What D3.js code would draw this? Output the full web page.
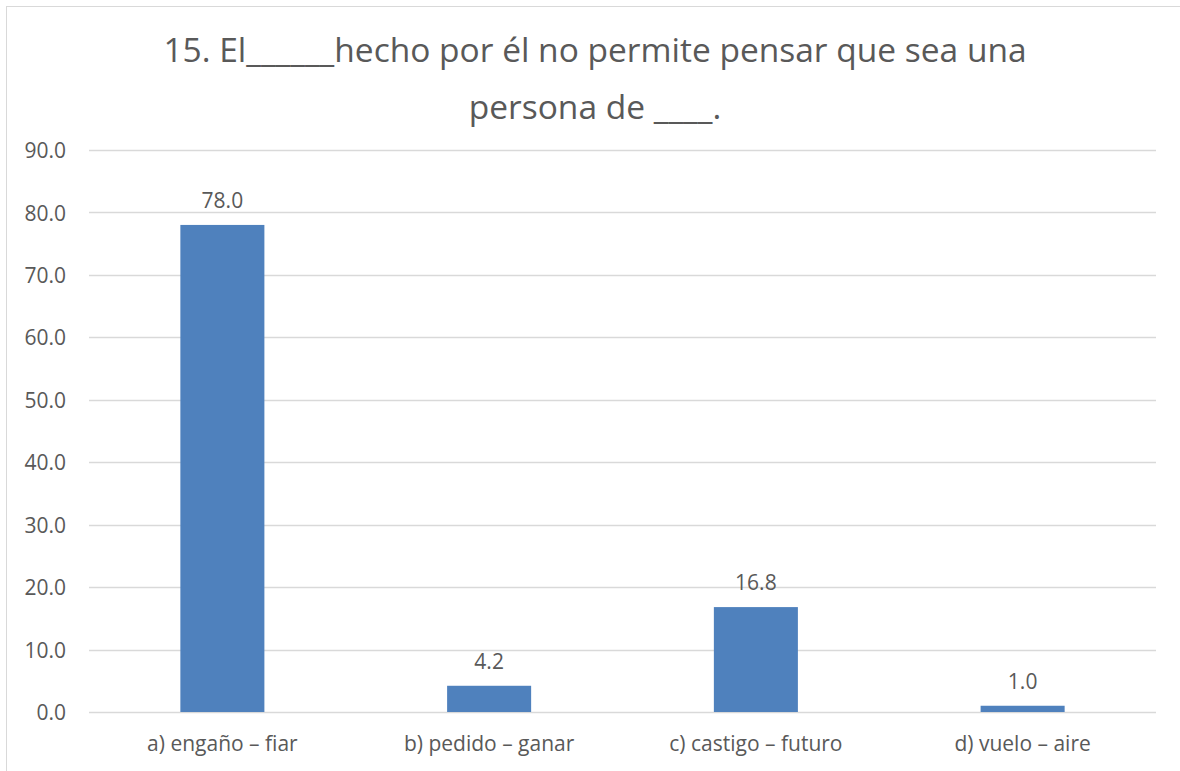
<!DOCTYPE html>
<html>
<head>
<meta charset="utf-8">
<script src="https://cdn.jsdelivr.net/npm/d3@7"></script>
<style>
  html, body { margin: 0; padding: 0; background: #fff; }
  svg { display: block; }
  text { font-family: "Open Sans", "Noto Sans", sans-serif; fill: #595959; }
</style>
</head>
<body>
<svg id="chart" width="1180" height="771"></svg>
<script>
const titleLines = ["15. El______hecho por él no permite pensar que sea una", "persona de ____."];
const categories = ["a) engaño – fiar", "b) pedido – ganar", "c) castigo – futuro", "d) vuelo – aire"];
const values = [78.0, 4.2, 16.8, 1.0];
const yTicks = [0, 10, 20, 30, 40, 50, 60, 70, 80, 90];

const svg = d3.select("#chart");
const W = 1180, H = 771;
const m = { left: 89, right: 1156, top: 150, bottom: 712 };

// chart border (extends past right/bottom of view)
svg.append("rect")
  .attr("x", 6.5).attr("y", 6.5)
  .attr("width", W + 20).attr("height", H + 20)
  .attr("fill", "#fff").attr("stroke", "#D9D9D9").attr("stroke-width", 1);

const x = d3.scaleBand().domain(categories).range([m.left, m.right]).padding(0);
const y = d3.scaleLinear().domain([0, 90]).range([m.bottom, m.top]);
const barW = x.bandwidth() * 0.315;

// gridlines
svg.append("g").selectAll("line").data(yTicks).join("line")
  .attr("x1", m.left).attr("x2", m.right)
  .attr("y1", d => Math.round(y(d)) + 0.5).attr("y2", d => Math.round(y(d)) + 0.5)
  .attr("stroke", "#D9D9D9").attr("stroke-width", 1.5);

// y axis labels
const yAxis = d3.axisLeft(y).tickValues(yTicks).tickFormat(d3.format(".1f")).tickSize(0).tickPadding(0);
const gy = svg.append("g").attr("transform", `translate(${m.left - 23},0)`).call(yAxis);
gy.select(".domain").remove();
gy.selectAll("text").attr("font-size", 21).attr("fill", "#595959")
  .attr("font-family", '"Open Sans", "Noto Sans", sans-serif').attr("dy", "0.36em");

// bars
svg.append("g").selectAll("rect").data(values).join("rect")
  .attr("x", (d, i) => x(categories[i]) + x.bandwidth() / 2 - barW / 2)
  .attr("width", barW)
  .attr("y", d => y(d))
  .attr("height", d => y(0) - y(d))
  .attr("fill", "#4F81BD");

// data labels
svg.append("g").selectAll("text").data(values).join("text")
  .attr("x", (d, i) => x(categories[i]) + x.bandwidth() / 2)
  .attr("y", d => y(d) - 17)
  .attr("text-anchor", "middle").attr("font-size", 21)
  .text(d => d3.format(".1f")(d));

// x axis labels
const xAxis = d3.axisBottom(x).tickSize(0).tickPadding(0);
const gx = svg.append("g").attr("transform", `translate(0,${m.bottom})`).call(xAxis);
gx.select(".domain").remove();
gx.selectAll("text").attr("font-size", 21).attr("fill", "#595959")
  .attr("font-family", '"Open Sans", "Noto Sans", sans-serif')
  .attr("dy", null).attr("y", 39);

// title
svg.append("g").selectAll("text").data(titleLines).join("text")
  .attr("x", 595).attr("y", (d, i) => 62 + i * 57)
  .attr("text-anchor", "middle").attr("font-size", 33.5)
  .text(d => d);
</script>
</body>
</html>
